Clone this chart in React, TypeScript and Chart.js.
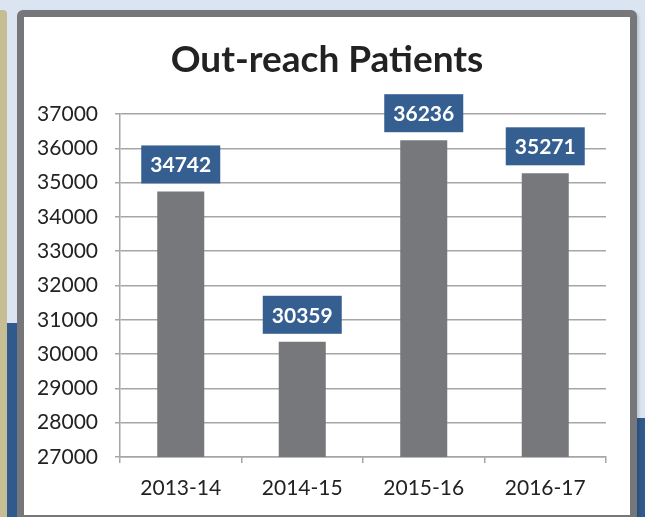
import React, { useEffect, useRef } from "react";
import { Chart, registerables } from "chart.js";

Chart.register(...registerables);

const categories = ["2013-14", "2014-15", "2015-16", "2016-17"];
const patients = [34742, 30359, 36236, 35271];
const yTicks = [27000, 28000, 29000, 30000, 31000, 32000, 33000, 34000, 35000, 36000, 37000];
const titleText = "Out-reach Patients";

const FONT = "Lato, 'Open Sans', sans-serif";

const labelPlugin = {
  id: "boxLabels",
  afterDatasetsDraw(chart: any) {
    const ctx = chart.ctx;
    const meta = chart.getDatasetMeta(0);
    ctx.save();
    ctx.font = `bold 21px ${FONT}`;
    ctx.textAlign = "center";
    ctx.textBaseline = "middle";
    meta.data.forEach((bar: any, i: number) => {
      const w = 79;
      const h = 38;
      const x = bar.x - w / 2;
      const y = bar.y - 8 - h;
      ctx.fillStyle = "#355f91";
      ctx.fillRect(x, y, w, h);
      ctx.fillStyle = "#ffffff";
      ctx.fillText(String(patients[i]), bar.x, y + h / 2 + 1);
    });
    ctx.restore();
  },
  afterDraw(chart: any) {
    const ctx = chart.ctx;
    ctx.save();
    ctx.font = `bold 37px ${FONT}`;
    ctx.fillStyle = "#222222";
    ctx.textAlign = "center";
    ctx.textBaseline = "alphabetic";
    ctx.fillText(titleText, 327, 72);
    ctx.restore();
  },
};

export default function App() {
  const ref = useRef<HTMLCanvasElement>(null);

  useEffect(() => {
    const chart = new Chart(ref.current!, {
      type: "bar",
      data: {
        labels: categories,
        datasets: [
          {
            data: patients,
            backgroundColor: "#77787b",
            barPercentage: 0.387,
            categoryPercentage: 1,
          },
        ],
      },
      options: {
        animation: false,
        responsive: false,
        maintainAspectRatio: false,
        layout: { padding: { left: 0, right: 39, top: 114, bottom: 0 } },
        plugins: { legend: { display: false }, title: { display: false }, tooltip: { enabled: false } },
        scales: {
          x: {
            offset: true,
            grid: {
              offset: true,
              drawOnChartArea: false,
              drawTicks: true,
              tickLength: 6,
              color: "#a6a6a6",
              lineWidth: 1.5,
            },
            border: { color: "#a6a6a6", width: 1.5 },
            ticks: { color: "#222222", font: { family: FONT, size: 21 }, padding: 13 },
            afterFit(scale: any) {
              scale.height = 60;
            },
          },
          y: {
            min: 27000,
            max: 37000,
            afterBuildTicks(scale: any) {
              scale.ticks = yTicks.map((v) => ({ value: v }));
            },
            grid: { color: "#a6a6a6", lineWidth: 1.5, tickLength: 5 },
            border: { color: "#a6a6a6", width: 1.5 },
            ticks: {
              color: "#222222",
              font: { family: FONT, size: 21 },
              padding: 17,
              callback: (v: any) => String(v),
            },
            afterFit(scale: any) {
              scale.width = 120;
            },
          },
        },
      },
      plugins: [labelPlugin],
    });
    return () => chart.destroy();
  }, []);

  return (
    <div
      style={{
        position: "fixed",
        left: 0,
        top: 0,
        width: 645,
        height: 517,
        overflow: "hidden",
        background: "#dbe5f1",
      }}
    >
      <div style={{ position: "absolute", left: 0, top: 10, width: 7, height: 520, background: "#c6bd94", borderTopRightRadius: 4 }} />
      <div style={{ position: "absolute", left: 7, top: 323, width: 12, height: 200, background: "#2f5a8b" }} />
      <div style={{ position: "absolute", left: 632, top: 418, width: 20, height: 110, background: "#2f5a8b" }} />
      <div
        style={{
          position: "absolute",
          left: 17,
          top: 10,
          width: 606,
          height: 498,
          border: "7px solid #76777b",
          borderRadius: 6,
          background: "#ffffff",
          boxShadow: "2px 2px 3px rgba(0,0,0,0.15)",
        }}
      />
      <canvas ref={ref} width={645} height={517} style={{ position: "absolute", left: 0, top: 0 }} />
    </div>
  );
}
